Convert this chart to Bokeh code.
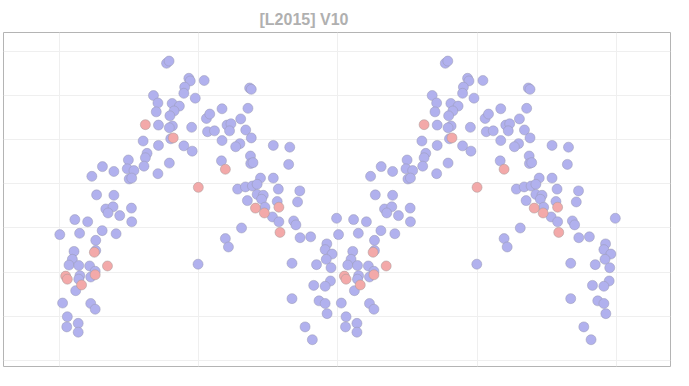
from bokeh.plotting import figure
from bokeh.models import FixedTicker, Range1d
from bokeh.embed import file_html
from bokeh.resources import INLINE
import numpy as np

TITLE = "[L2015] V10"

# Phase-folded light curve (phase 0..1), relative brightness units
phase_main = [0.385, 0.394, 0.465, 0.470, 0.450, 0.447, 0.488, 0.338, 0.354, 0.405,
              0.431, 0.348, 0.412, 0.397, 0.356, 0.406, 0.395, 0.475, 0.400, 0.301,
              0.356, 0.447, 0.477, 0.315, 0.309, 0.248, 0.395, 0.155, 0.304, 0.196,
              0.244, 0.268, 0.354, 0.117, 0.251, 0.260, 0.134, 0.196, 0.167, 0.193,
              0.175, 0.259, 0.056, 0.102, 0.217, 0.260, 0.002, 0.073, 0.154, 0.204,
              0.131, 0.053, 0.131, 0.047, 0.035, 0.070, 0.109, 0.129, 0.074, 0.070,
              0.113, 0.059, 0.012, 0.113, 0.129, 0.029, 0.027, 0.068, 0.068, 0.498,
              0.520, 0.683, 0.689, 0.584, 0.677, 0.528, 0.540, 0.651, 0.602, 0.616,
              0.611, 0.532, 0.557, 0.669, 0.689, 0.584, 0.648, 0.633, 0.768, 0.827,
              0.686, 0.582, 0.687, 0.695, 0.823, 0.722, 0.768, 0.640, 0.668, 0.693,
              0.710, 0.786, 0.863, 0.675, 0.710, 0.732, 0.726, 0.782, 0.855, 0.738,
              0.765, 0.788, 0.841, 0.849, 0.995, 0.654, 0.596, 0.607, 0.864, 0.902,
              0.960, 0.954, 0.979, 0.958, 0.975, 0.835, 0.923, 0.973, 0.913, 0.954,
              0.835, 0.932, 0.954, 0.961, 0.882, 0.908]
value_main = [6.73, 6.78, 6.39, 6.33, 6.19, 6.05, 5.94, 6.00, 5.83, 5.82,
              5.76, 5.63, 5.65, 5.54, 5.33, 5.31, 5.27, 5.28, 5.02, 4.97,
              4.87, 4.86, 4.74, 4.69, 4.59, 4.54, 4.47, 4.39, 4.40, 4.28,
              4.34, 4.30, 4.23, 4.17, 4.11, 4.13, 3.75, 3.74, 3.43, 3.48,
              3.34, 3.45, 3.19, 3.14, 3.28, 3.14, 2.85, 2.88, 2.94, 2.87,
              2.72, 2.47, 2.49, 2.29, 2.16, 2.15, 2.14, 2.02, 1.92, 1.84,
              1.89, 1.58, 1.30, 1.29, 1.16, 0.99, 0.76, 0.84, 0.64, 2.18,
              6.34, 6.17, 6.14, 5.70, 5.71, 5.48, 5.58, 5.47, 5.33, 5.36,
              5.20, 5.18, 5.20, 5.22, 5.04, 4.98, 4.91, 4.84, 4.87, 4.83,
              4.63, 4.52, 4.46, 4.48, 4.44, 4.13, 4.13, 3.88, 3.93, 3.95,
              3.99, 3.88, 3.84, 3.62, 3.76, 3.74, 3.65, 3.60, 3.59, 3.47,
              3.25, 3.14, 3.16, 3.07, 3.22, 3.00, 2.76, 2.57, 2.78, 2.80,
              2.64, 2.51, 2.41, 2.29, 2.10, 2.20, 2.17, 1.80, 1.70, 1.68,
              1.40, 1.35, 1.29, 1.06, 0.76, 0.47]

phase_flag = [0.309, 0.409, 0.499, 0.126, 0.173, 0.023, 0.029, 0.129, 0.080,
              0.596, 0.704, 0.736, 0.788, 0.792]
value_flag = [5.34, 5.04, 3.92, 2.45, 2.14, 1.91, 1.84, 1.94, 1.71,
              4.33, 3.45, 3.34, 3.47, 2.90]

x_grid = [0, 0.5, 1.0, 1.5, 2.0]
y_grid = [0, 1, 2, 3, 4, 5, 6, 7]

p = figure(width=673, height=370, output_backend="svg", toolbar_location=None,
           x_range=Range1d(-0.200, 2.193), y_range=Range1d(-0.137, 7.427),
           min_border_left=3, min_border_right=3, min_border_bottom=4, min_border_top=32)

p.title.text = TITLE
p.title.align = "left"
p.title.offset = 256
p.title.text_font = "Liberation Sans"
p.title.text_font_size = "16px"
p.title.text_font_style = "bold"
p.title.text_color = "#b0b0b0"

p.xaxis.visible = False
p.yaxis.visible = False
p.xgrid.ticker = FixedTicker(ticks=x_grid)
p.ygrid.ticker = FixedTicker(ticks=y_grid)
p.xgrid.grid_line_color = "#efefef"
p.ygrid.grid_line_color = "#efefef"
p.outline_line_color = "#b4b4b4"
p.outline_line_width = 1
p.background_fill_color = "white"
p.border_fill_color = "white"

pm = np.array(phase_main)
vm = np.array(value_main)
pf = np.array(phase_flag)
vf = np.array(value_flag)

for shift in (0.0, 1.0):
    p.scatter(pm + shift, vm, size=10, fill_color="#b1b1ee", fill_alpha=1.0,
              line_color="#9a9ab4", line_alpha=0.5, line_width=1)
for shift in (0.0, 1.0):
    p.scatter(pf + shift, vf, size=10, fill_color="#f3a9a9", fill_alpha=1.0,
              line_color="#a89a9a", line_alpha=0.5, line_width=1)

open("out.html", "w").write(file_html(p, INLINE))
